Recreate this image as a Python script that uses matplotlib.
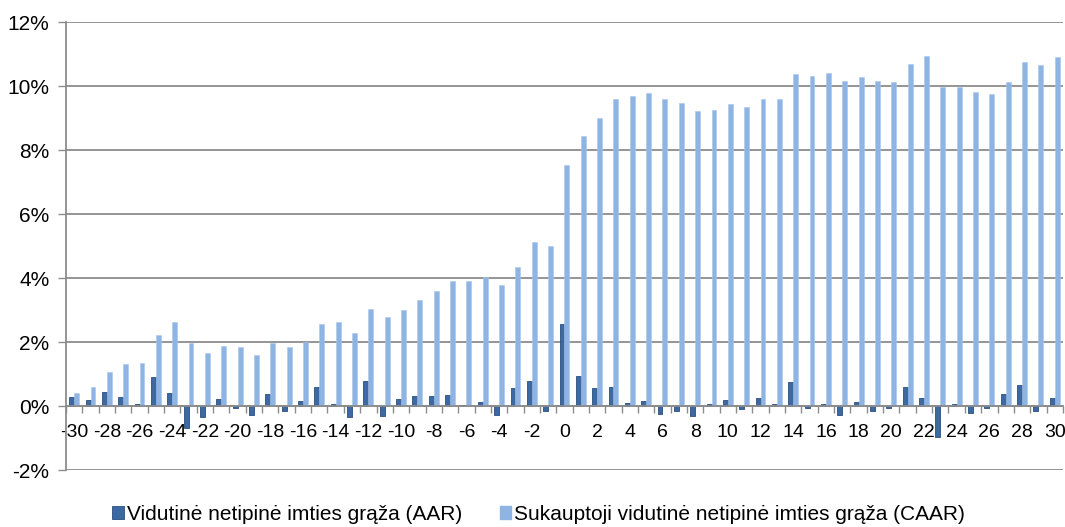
import matplotlib.pyplot as plt
import numpy as np
from matplotlib.patches import Patch

plt.rcParams["font.family"] = ["Liberation Sans", "DejaVu Sans"]

# event days -30 .. 30
days = list(range(-30, 31))

# average abnormal return, %
aar = [
    0.28, 0.20, 0.45, 0.29, 0.05, 0.91, 0.42, -0.68, -0.34, 0.22,
    -0.05, -0.27, 0.39, -0.16, 0.16, 0.59, 0.08, -0.35, 0.77, -0.31,
    0.23, 0.31, 0.32, 0.35, 0.04, 0.13, -0.27, 0.56, 0.77, -0.15,
    2.58, 0.93, 0.57, 0.61, 0.10, 0.15, -0.25, -0.15, -0.30, 0.05,
    0.18, -0.09, 0.24, 0.05, 0.76, -0.07, 0.08, -0.27, 0.13, -0.14,
    -0.07, 0.59, 0.26, -0.97, 0.05, -0.22, -0.07, 0.39, 0.65, -0.14,
    0.26,
]

# cumulative average abnormal return, %
caar = [
    0.41, 0.60, 1.05, 1.32, 1.34, 2.23, 2.64, 1.97, 1.66, 1.87,
    1.85, 1.60, 1.97, 1.85, 1.99, 2.57, 2.63, 2.29, 3.05, 2.79,
    3.01, 3.31, 3.59, 3.92, 3.92, 4.04, 3.80, 4.36, 5.13, 5.00,
    7.53, 8.43, 9.00, 9.60, 9.68, 9.80, 9.60, 9.48, 9.21, 9.24,
    9.43, 9.35, 9.59, 9.61, 10.37, 10.32, 10.40, 10.17, 10.28, 10.17,
    10.12, 10.69, 10.94, 9.97, 9.98, 9.81, 9.76, 10.13, 10.75, 10.66,
    10.90,
]

series_names = [
    "Vidutinė netipinė imties grąža (AAR)",
    "Sukauptoji vidutinė netipinė imties grąža (CAAR)",
]
y_ticks = [-2, 0, 2, 4, 6, 8, 10, 12]

dark_blue = "#3d69a3"
light_blue = "#8db4e3"
grid_grey = "#8c8c8c"

fig = plt.figure(figsize=(10.65, 5.27), dpi=100)
ax = fig.add_axes([0.062, 0.108, 0.936, 0.850])

x = np.arange(len(days))
w = 0.3
ax.bar(x - w / 2, aar, width=w, color=dark_blue, edgecolor="#2b4f7f",
       linewidth=0.6, zorder=2)
ax.bar(x + w / 2, caar, width=w, color=light_blue, edgecolor="#a9c6ec",
       linewidth=0.4, zorder=2)

ax.set_xlim(-0.5, len(days) - 0.5)
ax.set_ylim(-2, 12)

# y axis
ax.set_yticks(y_ticks)
ax.set_yticklabels([f"{v}%" for v in y_ticks], fontsize=15)
ax.yaxis.grid(True, color=grid_grey, linewidth=1.3)
ax.set_axisbelow(True)
ax.tick_params(axis="y", length=6, width=1, color=grid_grey, pad=6)

# x axis sits on zero, ticks between categories, labels every second day
ax.spines["bottom"].set_position(("data", 0))
ax.spines["bottom"].set_color(grid_grey)
ax.spines["bottom"].set_linewidth(1.3)
ax.spines["bottom"].set_zorder(3)
ax.spines["left"].set_color(grid_grey)
ax.spines["left"].set_linewidth(1.3)
ax.spines["top"].set_visible(False)
ax.spines["right"].set_visible(False)

ax.set_xticks(np.arange(-0.5, len(days), 1.0))
ax.set_xticklabels([])
ax.tick_params(axis="x", which="major", length=5, width=1, color=grid_grey)
label_pos = [i for i, d in enumerate(days) if d % 2 == 0]
ax.set_xticks(label_pos, minor=True)
ax.set_xticklabels([str(days[i]) for i in label_pos], minor=True, fontsize=14)
ax.tick_params(axis="x", which="minor", length=0, pad=13)

handles = [
    Patch(facecolor=dark_blue, edgecolor="#2b4f7f", linewidth=0.6),
    Patch(facecolor=light_blue, edgecolor=light_blue),
]
fig.legend(handles, series_names, loc="lower center",
           bbox_to_anchor=(0.506, -0.03), ncol=2, frameon=False,
           fontsize=15, handlelength=0.55, handleheight=0.55,
           handletextpad=0.15, columnspacing=1.8)

fig.savefig("out.png", dpi=100)
